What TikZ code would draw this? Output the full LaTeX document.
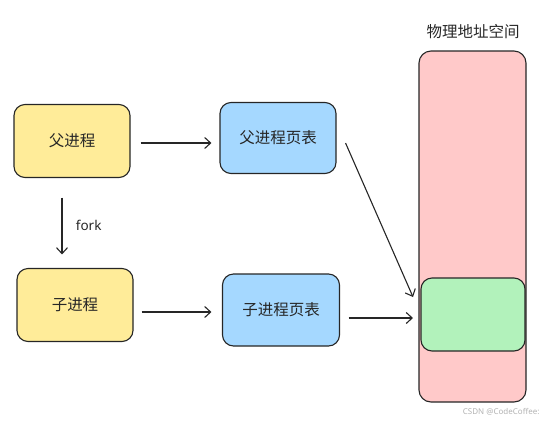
\documentclass[tikz,border=0pt]{standalone}
\usepackage{fontspec}
\setmainfont{Noto Sans}
\newfontfamily\cjk{Noto Sans CJK SC}
\usetikzlibrary{arrows.meta}
\definecolor{yel}{HTML}{FFEC99}
\definecolor{blu}{HTML}{A5D8FF}
\definecolor{rd}{HTML}{FFC9C9}
\definecolor{grn}{HTML}{B2F2BB}
\begin{document}
\begin{tikzpicture}[x=1pt,y=-1pt,
  box/.style={draw=black!85, line width=1.1pt, rounded corners=11pt},
  lbl/.style={font=\cjk\fontsize{15.5}{18}\selectfont, text=black!85},
  conn/.style={draw=black!85, line width=1.1pt, -{Straight Barb[length=6pt,width=11pt]}}]
\useasboundingbox (0,0) rectangle (544,424);
% physical memory
\draw[box, fill=rd, rounded corners=12pt] (419,51) rectangle (526,402);
\node[lbl] (title) at (473,32) {物理地址空间};
\draw[box, fill=grn] (421,278) rectangle (525,351);
\coordinate (g1) at (413,297);
\coordinate (g2) at (413,318);
% boxes
\node[box, fill=yel, minimum width=116pt, minimum height=73pt, lbl] (p) at (72,141) {父进程};
\node[box, fill=blu, minimum width=116pt, minimum height=71pt, lbl] (pt) at (278,138) {父进程页表};
\node[box, fill=yel, minimum width=116pt, minimum height=73pt, lbl] (c) at (75,305) {子进程};
\node[box, fill=blu, minimum width=117pt, minimum height=72pt, lbl] (ct) at (281,310) {子进程页表};
% connectors
\draw[conn] ([shift={(10,2)}]p.east) -- ([shift={(-8,5)}]pt.west);
\draw[conn] ([shift={(8,7)}]c.east) -- ([shift={(-10.5,2)}]ct.west);
\draw[conn] ([shift={(-10,19.5)}]p.south) -- node[right=10pt, yshift=1pt, font=\fontsize{13.5}{15}\selectfont, text=black!85]{fork} ([shift={(-13,-13.5)}]c.north);
\draw[conn] ([shift={(9,5)}]pt.east) -- (g1);
\draw[conn] ([shift={(8.5,8)}]ct.east) -- (g2);
\node[font=\fontsize{8}{10}\selectfont, text=black!30, anchor=east] (wm) at (543,412) {CSDN @CodeCoffee:};
\end{tikzpicture}
\end{document}
